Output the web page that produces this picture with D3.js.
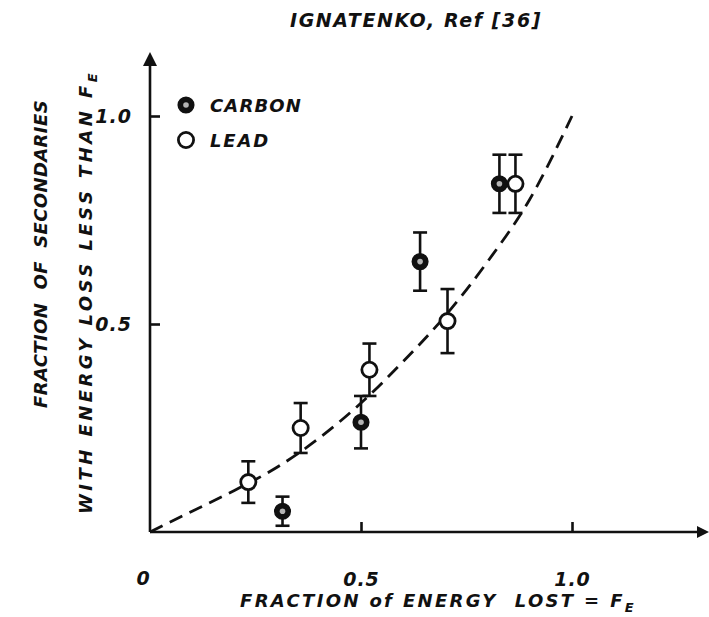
<!DOCTYPE html>
<html>
<head>
<meta charset="utf-8">
<script src="https://cdn.jsdelivr.net/npm/d3@7"></script>
<style>
  html, body { margin: 0; padding: 0; background: #fff; }
  svg text { font-family: "DejaVu Sans", sans-serif; font-style: italic; font-weight: bold; fill: #111; white-space: pre; }
</style>
</head>
<body>
<svg id="chart" width="709" height="617"></svg>
<script>
// Fraction of energy lost (x) vs fraction of secondaries (y)
const leadX    = [0.233, 0.357, 0.52, 0.705, 0.866];
const leadY    = [0.12, 0.25, 0.39, 0.507, 0.837];
const leadErr  = [0.05, 0.06, 0.063, 0.077, 0.07];

const carbonX   = [0.314, 0.50, 0.64, 0.828];
const carbonY   = [0.05, 0.264, 0.65, 0.837];
const carbonErr = [0.035, 0.063, 0.07, 0.07];

// Fitted dashed curve
const curveX = [0, 0.1, 0.2, 0.3, 0.4, 0.5, 0.6, 0.7, 0.8, 0.9, 1.0];
const curveY = [0, 0.05, 0.10, 0.155, 0.225, 0.31, 0.41, 0.52, 0.65, 0.80, 1.0];

const xTicks = [0.5, 1.0];
const yTicks = [0.5, 1.0];
const xTickLabels = ["0.5", "1.0"];
const yTickLabels = ["0.5", "1.0"];

const svg = d3.select("#chart");
const ink = "#111";

const x = d3.scaleLinear().domain([0, 1]).range([150, 572]);
const y = d3.scaleLinear().domain([0, 1]).range([532, 116]);

// Spread a text's letters so that it spans the given width
function spread(sel, width) {
  const node = sel.node();
  const n = node.getNumberOfChars();
  const w0 = node.getComputedTextLength();
  sel.style("letter-spacing", ((width - w0) / n) + "px");
  return sel;
}

// Axes with arrowheads
svg.append("line").attr("x1", x(0)).attr("y1", y(0)).attr("x2", 702).attr("y2", y(0))
  .attr("stroke", ink).attr("stroke-width", 2.6);
svg.append("path").attr("d", `M709,${y(0)} L697,${y(0)-6} L697,${y(0)+6} Z`).attr("fill", ink);

svg.append("line").attr("x1", x(0)).attr("y1", y(0)).attr("x2", x(0)).attr("y2", 60)
  .attr("stroke", ink).attr("stroke-width", 2.6);
svg.append("path").attr("d", `M${x(0)},52 L${x(0)-7},66 L${x(0)+7},66 Z`).attr("fill", ink);

// Ticks pointing inward
const xAxis = d3.axisBottom(x).tickValues(xTicks).tickSize(-10).tickPadding(41)
  .tickFormat((d, i) => xTickLabels[i]);
const gx = svg.append("g").attr("transform", `translate(0,${y(0)})`).call(xAxis);
gx.select(".domain").remove();
gx.selectAll(".tick line").attr("stroke", ink).attr("stroke-width", 2.6);
gx.selectAll(".tick text").attr("font-size", 19).attr("font-family", null).style("letter-spacing", "1px");

const yAxis = d3.axisLeft(y).tickValues(yTicks).tickSize(-10).tickPadding(18)
  .tickFormat((d, i) => yTickLabels[i]);
const gy = svg.append("g").attr("transform", `translate(${x(0)},0)`).call(yAxis);
gy.select(".domain").remove();
gy.selectAll(".tick line").attr("stroke", ink).attr("stroke-width", 2.6);
gy.selectAll(".tick text").attr("font-size", 19).attr("font-family", null).style("letter-spacing", "1px");

svg.append("text").attr("x", x(0) - 7).attr("y", y(0) + 53).attr("text-anchor", "middle")
  .attr("font-size", 19).text("0");

// Dashed curve
const line = d3.line().x(d => x(d[0])).y(d => y(d[1])).curve(d3.curveMonotoneX);
svg.append("path").datum(curveX.map((v, i) => [v, curveY[i]]))
  .attr("d", line).attr("fill", "none").attr("stroke", ink)
  .attr("stroke-width", 2.8).attr("stroke-dasharray", "14,8");

// Error bars
function errorBars(xs, ys, es) {
  const g = svg.append("g").attr("stroke", ink).attr("stroke-width", 2.6);
  xs.forEach((xv, i) => {
    const cx = x(xv), top = y(ys[i] + es[i]), bot = y(ys[i] - es[i]);
    g.append("line").attr("x1", cx).attr("x2", cx).attr("y1", top).attr("y2", bot);
    g.append("line").attr("x1", cx - 7).attr("x2", cx + 7).attr("y1", top).attr("y2", top);
    g.append("line").attr("x1", cx - 7).attr("x2", cx + 7).attr("y1", bot).attr("y2", bot);
  });
}
errorBars(leadX, leadY, leadErr);
errorBars(carbonX, carbonY, carbonErr);

// Markers
function openMarker(cx, cy) {
  svg.append("circle").attr("cx", cx).attr("cy", cy).attr("r", 7.6)
    .attr("fill", "#fff").attr("stroke", ink).attr("stroke-width", 2.8);
}
function filledMarker(cx, cy) {
  svg.append("circle").attr("cx", cx).attr("cy", cy).attr("r", 7.8)
    .attr("fill", ink).attr("stroke", ink).attr("stroke-width", 1.5);
  svg.append("circle").attr("cx", cx).attr("cy", cy).attr("r", 2.8).attr("fill", "#b5b5b5");
}
leadX.forEach((v, i) => openMarker(x(v), y(leadY[i])));
carbonX.forEach((v, i) => filledMarker(x(v), y(carbonY[i])));

// Legend
filledMarker(186, 105);
spread(svg.append("text").attr("x", 210).attr("y", 112).attr("font-size", 18).text("CARBON"), 92);
openMarker(186, 140);
spread(svg.append("text").attr("x", 210).attr("y", 147).attr("font-size", 18).text("LEAD"), 60);

// Title
spread(svg.append("text").attr("x", 290).attr("y", 27).attr("font-size", 19)
  .text("IGNATENKO, Ref [36]"), 252);

// X-axis title
const xt = svg.append("text").attr("x", 240).attr("y", 607).attr("font-size", 18);
xt.append("tspan").text("FRACTION of ENERGY  LOST = F");
xt.append("tspan").attr("font-size", 13).attr("dy", 5).text("E");
spread(xt, 396);

// Y-axis title, two rotated lines
const yt1 = svg.append("text").attr("transform", "translate(47,254) rotate(-90)")
  .attr("text-anchor", "middle").attr("font-size", 18)
  .text("FRACTION  OF  SECONDARIES");
spread(yt1, 308);
const yt2 = svg.append("text").attr("transform", "translate(92,292) rotate(-90)")
  .attr("text-anchor", "middle").attr("font-size", 18);
yt2.append("tspan").text("WITH ENERGY LOSS LESS THAN F");
yt2.append("tspan").attr("font-size", 13).attr("dy", 5).text("E");
spread(yt2, 444);
</script>
</body>
</html>
